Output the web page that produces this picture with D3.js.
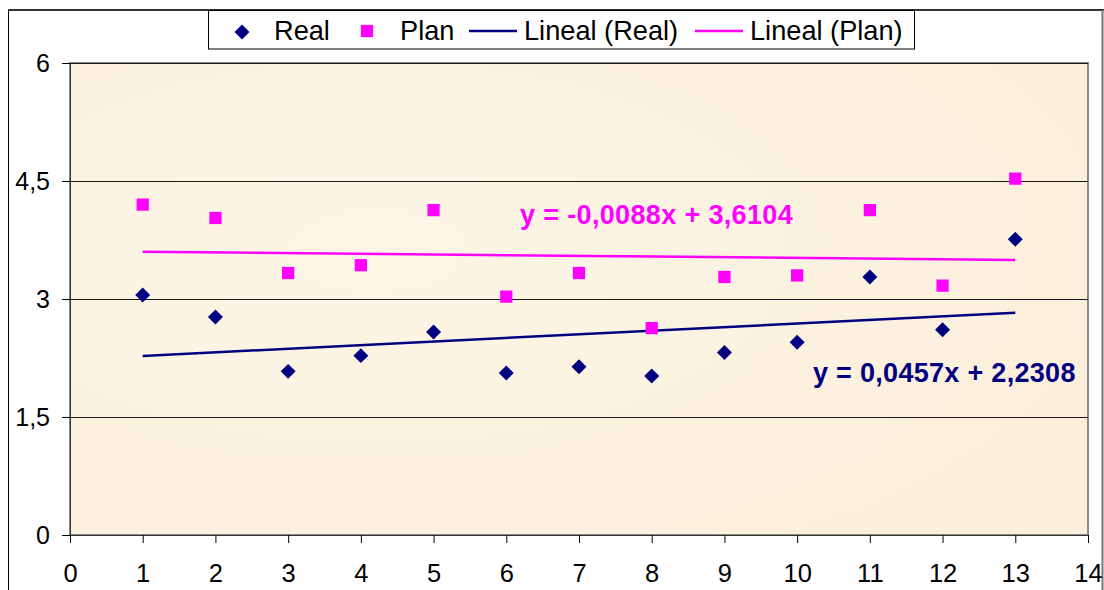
<!DOCTYPE html>
<html>
<head>
<meta charset="utf-8">
<script src="https://cdn.jsdelivr.net/npm/d3@7"></script>
<style>
  html, body { margin: 0; padding: 0; background: #ffffff; }
  svg { display: block; }
  text { font-family: "Liberation Sans", Arial, sans-serif; }
</style>
</head>
<body>
<svg id="chart" width="1104" height="590"></svg>
<script>
// ---- data ----
const xValues = [1, 2, 3, 4, 5, 6, 7, 8, 9, 10, 11, 12, 13];
const realValues = [3.05, 2.77, 2.08, 2.28, 2.58, 2.06, 2.14, 2.02, 2.32, 2.45, 3.28, 2.61, 3.76];
const planValues = [4.20, 4.03, 3.33, 3.43, 4.13, 3.03, 3.33, 2.63, 3.28, 3.30, 4.13, 3.17, 4.53];
const realTrend = [0.0457, 2.2308];   // slope, intercept
const planTrend = [-0.0088, 3.6104];  // slope, intercept
const xTicks = [0, 1, 2, 3, 4, 5, 6, 7, 8, 9, 10, 11, 12, 13, 14];
const yTicks = [0, 1.5, 3, 4.5, 6];
const seriesNames = ["Real", "Plan", "Lineal (Real)", "Lineal (Plan)"];
const realEquation = "y = 0,0457x + 2,2308";
const planEquation = "y = -0,0088x + 3,6104";

// ---- layout ----
const svg = d3.select("#chart");
const plot = { left: 70, right: 1088, top: 63, bottom: 535 };
const NAVY = "#000080", MAGENTA = "#FF00FF";

const x = d3.scaleLinear().domain([0, 14]).range([plot.left, plot.right]);
const y = d3.scaleLinear().domain([0, 6]).range([plot.bottom, plot.top]);
const locale = d3.formatLocale({ decimal: ",", thousands: ".", grouping: [3], currency: ["", ""] });
const fmt = v => locale.format("~g")(v);

// outer chart border
svg.append("line").attr("x1", 8.5).attr("x2", 8.5).attr("y1", 10).attr("y2", 590)
  .attr("stroke", "#000").attr("stroke-width", 1);
svg.append("line").attr("x1", 8).attr("x2", 1104).attr("y1", 10).attr("y2", 10)
  .attr("stroke", "#333").attr("stroke-width", 2);
svg.append("line").attr("x1", 1102.5).attr("x2", 1102.5).attr("y1", 10).attr("y2", 590)
  .attr("stroke", "#777").attr("stroke-width", 2);

// plot background (light parchment)
const defs = svg.append("defs");
const grad = defs.append("radialGradient").attr("id", "bg")
  .attr("cx", "30%").attr("cy", "40%").attr("r", "80%");
grad.append("stop").attr("offset", "0%").attr("stop-color", "#FDF5E6");
grad.append("stop").attr("offset", "100%").attr("stop-color", "#FBEFDB");
svg.append("rect")
  .attr("x", plot.left).attr("y", plot.top)
  .attr("width", plot.right - plot.left).attr("height", plot.bottom - plot.top)
  .attr("fill", "url(#bg)")
  .attr("stroke", "#8a8a8a").attr("stroke-width", 2);

// gridlines
svg.append("g").selectAll("line")
  .data(yTicks.filter(d => d > 0))
  .join("line")
  .attr("x1", plot.left).attr("x2", plot.right)
  .attr("y1", d => Math.round(y(d)) + 0.5).attr("y2", d => Math.round(y(d)) + 0.5)
  .attr("stroke", "#1a1a1a").attr("stroke-width", 1);

// axes
const xAxis = svg.append("g")
  .attr("transform", `translate(0,${plot.bottom})`)
  .call(d3.axisBottom(x).tickValues(xTicks).tickFormat(fmt).tickSize(8).tickSizeOuter(0));
xAxis.select(".domain").attr("stroke", "#333");
xAxis.selectAll(".tick line").attr("stroke", "#000");
xAxis.selectAll(".tick text")
  .attr("y", 47).attr("dy", 0)
  .attr("font-size", 25.5).attr("fill", "#000")
  .attr("font-family", "Liberation Sans, Arial, sans-serif");

const yAxis = svg.append("g")
  .attr("transform", `translate(${plot.left},0)`)
  .call(d3.axisLeft(y).tickValues(yTicks).tickFormat(fmt).tickSize(8).tickSizeOuter(0));
yAxis.select(".domain").attr("stroke", "#333");
yAxis.selectAll(".tick line").attr("stroke", "#000");
yAxis.selectAll(".tick text")
  .attr("x", -20).attr("dy", "0.35em")
  .attr("font-size", 25).attr("fill", "#000")
  .attr("font-family", "Liberation Sans, Arial, sans-serif");

// trend lines
const trendLine = d3.line().x(d => x(d[0])).y(d => y(d[1]));
const xExt = d3.extent(xValues);
function trendPts(t) { return xExt.map(v => [v, t[0] * v + t[1]]); }
svg.append("path").attr("d", trendLine(trendPts(planTrend)))
  .attr("stroke", MAGENTA).attr("stroke-width", 2.5).attr("fill", "none");
svg.append("path").attr("d", trendLine(trendPts(realTrend)))
  .attr("stroke", NAVY).attr("stroke-width", 2.5).attr("fill", "none");

// points
const diamond = d3.symbol().type(d3.symbolSquare).size(112);
const square = d3.symbol().type(d3.symbolSquare).size(150);
svg.append("g").selectAll("path")
  .data(xValues.map((v, i) => [v, planValues[i]]))
  .join("path")
  .attr("d", square)
  .attr("transform", d => `translate(${x(d[0])},${y(d[1])})`)
  .attr("fill", MAGENTA);
svg.append("g").selectAll("path")
  .data(xValues.map((v, i) => [v, realValues[i]]))
  .join("path")
  .attr("d", diamond)
  .attr("transform", d => `translate(${x(d[0])},${y(d[1])}) rotate(45)`)
  .attr("fill", NAVY);

// equation labels
svg.append("text").attr("x", 520).attr("y", 223.5)
  .attr("font-size", 27).attr("font-weight", "bold").attr("fill", MAGENTA)
  .attr("letter-spacing", 0.35)
  .text(planEquation);
svg.append("text").attr("x", 813).attr("y", 381.5)
  .attr("font-size", 27).attr("font-weight", "bold").attr("fill", NAVY)
  .attr("letter-spacing", 0.3)
  .text(realEquation);

// legend
const lg = svg.append("g");
lg.append("rect").attr("x", 208.5).attr("y", 10.5).attr("width", 706).attr("height", 38.5)
  .attr("fill", "#fff").attr("stroke", "#000").attr("stroke-width", 1);
lg.append("path").attr("d", diamond).attr("transform", "translate(242,32) rotate(45)").attr("fill", NAVY);
lg.append("path").attr("d", square).attr("transform", "translate(367,31)").attr("fill", MAGENTA);
lg.append("line").attr("x1", 469).attr("x2", 517).attr("y1", 31).attr("y2", 31)
  .attr("stroke", NAVY).attr("stroke-width", 2.5);
lg.append("line").attr("x1", 695).attr("x2", 743).attr("y1", 31).attr("y2", 31)
  .attr("stroke", MAGENTA).attr("stroke-width", 2.5);
const legendTextX = [274, 400, 524, 750];
lg.selectAll("text.lt").data(seriesNames).join("text")
  .attr("class", "lt")
  .attr("x", (d, i) => legendTextX[i]).attr("y", 39.5)
  .attr("font-size", 27.2).attr("fill", "#000")
  .text(d => d);
</script>
</body>
</html>
